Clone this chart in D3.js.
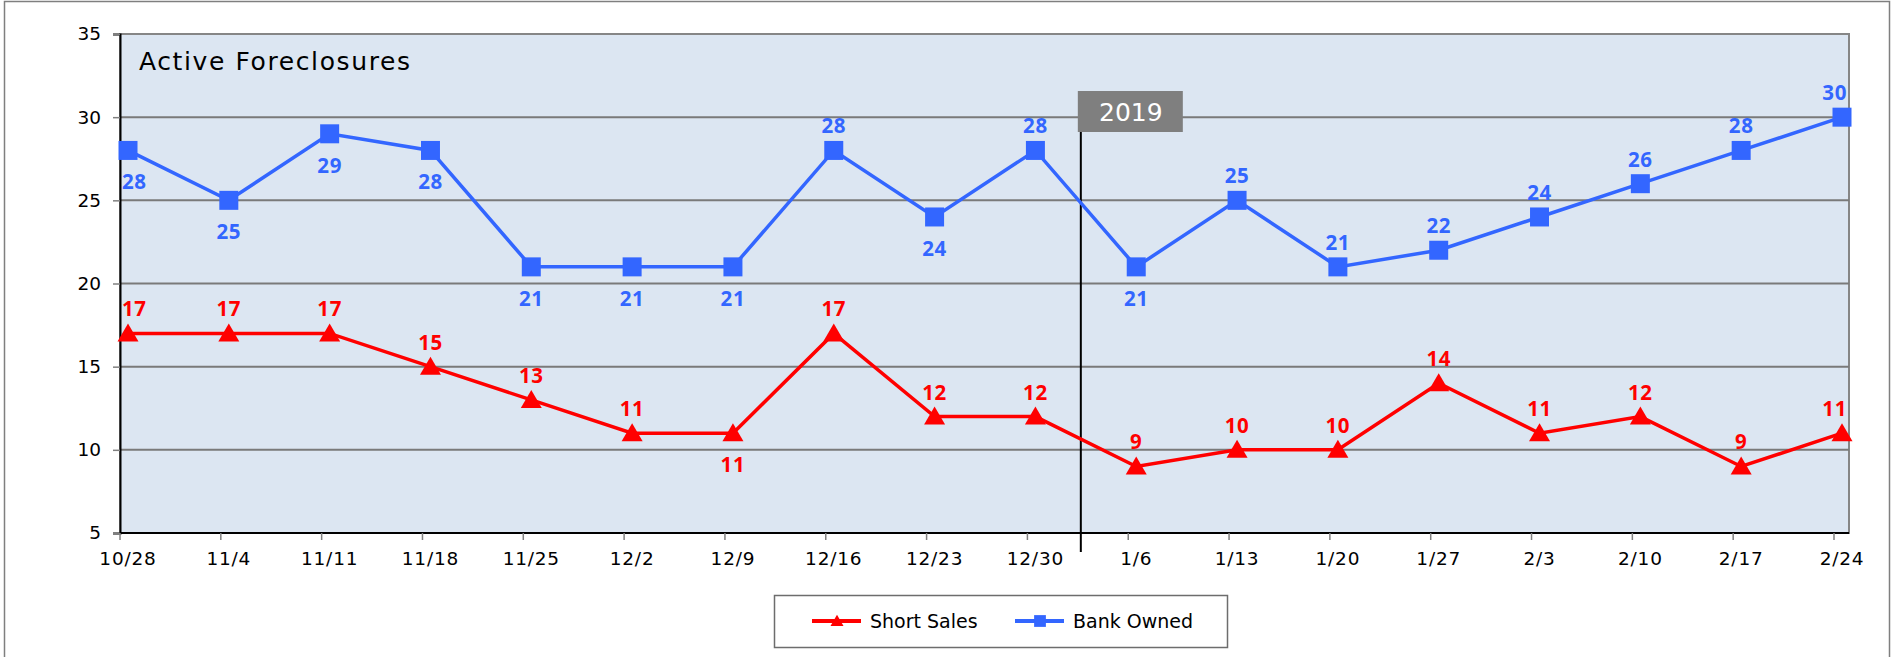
<!DOCTYPE html>
<html>
<head>
<meta charset="utf-8">
<script src="https://cdn.jsdelivr.net/npm/d3@7"></script>
<style>
  body { margin: 0; background: #fff; }
  svg { display: block; font-family: "DejaVu Sans", sans-serif; }
</style>
</head>
<body>
<svg id="chart" width="1895" height="657"></svg>
<script>
// weeks shown on the x axis
var weeks = ["10/28", "11/4", "11/11", "11/18", "11/25", "12/2", "12/9", "12/16", "12/23", "12/30",
             "1/6", "1/13", "1/20", "1/27", "2/3", "2/10", "2/17", "2/24"];
var shortSales = [17, 17, 17, 15, 13, 11, 11, 17, 12, 12, 9, 10, 10, 14, 11, 12, 9, 11];
var bankOwned = [28, 25, 29, 28, 21, 21, 21, 28, 24, 28, 21, 25, 21, 22, 24, 26, 28, 30];
// where each value label sits relative to its marker
var shortLabelPos = ["up", "up", "up", "up", "up", "up", "down", "up", "up", "up",
                     "up", "up", "up", "up", "up", "up", "up", "up"];
var bankLabelPos = ["down", "down", "down", "down", "down", "down", "down", "up", "down", "up",
                    "down", "up", "up", "up", "up", "up", "up", "up"];
var yTicks = [5, 10, 15, 20, 25, 30, 35];

var svg = d3.select("#chart");
var plot = {left: 120, right: 1849, top: 34, bottom: 533};

var x = d3.scalePoint().domain(weeks).range([128, 1842]);
var y = d3.scaleLinear().domain([5, 35]).range([plot.bottom, plot.top]);

// outer frame
svg.append("rect")
    .attr("x", 4.5).attr("y", 1.5)
    .attr("width", 1885).attr("height", 680)
    .style("fill", "none").style("stroke", "#7f7f7f").style("stroke-width", 1.5);

// plot background
svg.append("rect")
    .attr("x", plot.left).attr("y", plot.top)
    .attr("width", plot.right - plot.left).attr("height", plot.bottom - plot.top)
    .style("fill", "#dce6f2").style("stroke", "#868686").style("stroke-width", 2);

// gridlines
svg.append("g").selectAll("line")
    .data(yTicks.slice(1, -1))
    .enter().append("line")
    .attr("x1", plot.left).attr("x2", plot.right)
    .attr("y1", function(d){ return y(d); }).attr("y2", function(d){ return y(d); })
    .style("stroke", "#7a7a7a").style("stroke-width", 2);

// y axis
var yAxis = svg.append("g")
    .attr("transform", "translate(" + plot.left + ",0)")
    .call(d3.axisLeft(y).tickValues(yTicks).tickSize(7).tickPadding(12));
yAxis.select(".domain").style("stroke", "#000").style("stroke-width", 2);
yAxis.selectAll(".tick line").style("stroke", "#808080").style("stroke-width", 1.5);
yAxis.selectAll("text").style("font-size", "18.5px").style("font-family", "DejaVu Sans")
    .style("fill", "#000");

// x axis: ticks sit a little left of the points, as in the original
var xAxis = svg.append("g")
    .attr("transform", "translate(0," + plot.bottom + ")");
xAxis.append("line")
    .attr("x1", plot.left).attr("x2", plot.right)
    .style("stroke", "#000").style("stroke-width", 2);
xAxis.selectAll(".xtick")
    .data(weeks).enter().append("line")
    .attr("x1", function(d){ return x(d) - 8; }).attr("x2", function(d){ return x(d) - 8; })
    .attr("y1", 0).attr("y2", 7)
    .style("stroke", "#808080").style("stroke-width", 1.5);
xAxis.selectAll(".xlabel")
    .data(weeks).enter().append("text")
    .attr("x", function(d){ return x(d); })
    .attr("y", 32)
    .attr("text-anchor", "middle")
    .style("font-size", "18.5px").style("letter-spacing", "0.8px")
    .text(function(d){ return d; });

// title
svg.append("text")
    .attr("x", 139).attr("y", 70)
    .style("font-size", "25px").style("letter-spacing", "1.6px")
    .text("Active Foreclosures");

// 2019 divider
var divX = (x("12/30") + x("1/6")) / 2 - 5;
svg.append("line")
    .attr("x1", divX).attr("x2", divX)
    .attr("y1", 132).attr("y2", 552)
    .style("stroke", "#000").style("stroke-width", 2);
svg.append("rect")
    .attr("x", divX - 3).attr("y", 91)
    .attr("width", 105).attr("height", 41)
    .style("fill", "#7f7f7f");
svg.append("text")
    .attr("x", divX - 3 + 53).attr("y", 121)
    .attr("text-anchor", "middle")
    .style("font-size", "25px").style("fill", "#fff")
    .text("2019");

var line = d3.line()
    .x(function(d, i){ return x(weeks[i]); })
    .y(function(d){ return y(d); });

function drawSeries(values, labelPos, color, shape) {
    var g = svg.append("g");
    g.append("path")
        .datum(values)
        .attr("d", line)
        .style("fill", "none").style("stroke", color).style("stroke-width", 3.5);
    g.selectAll(".marker")
        .data(values).enter().append("path")
        .attr("transform", function(d, i){ return "translate(" + x(weeks[i]) + "," + y(d) + ")"; })
        .attr("d", shape)
        .style("fill", color);
    g.selectAll(".lbl")
        .data(values).enter().append("text")
        .attr("y", function(d, i){ return y(d) + (labelPos[i] == "up" ? -17 : 39); })
        .attr("text-anchor", "middle")
        .style("font-family", "Open Sans")
        .style("font-size", "20.5px").style("font-weight", 700)
        .style("letter-spacing", "0.6px")
        .style("fill", color)
        .text(function(d){ return d; })
        // keep labels inside the plot area
        .attr("x", function(d, i){
            var half = this.getComputedTextLength() / 2 + 2;
            return Math.max(plot.left + half, Math.min(plot.right - half, x(weeks[i])));
        });
}

var triangle = "M0,-10L10.5,8L-10.5,8Z";
var square = "M-9.5,-9.5H9.5V9.5H-9.5Z";

drawSeries(bankOwned, bankLabelPos, "#3366ff", square);
drawSeries(shortSales, shortLabelPos, "#ff0000", triangle);

// legend
var legend = svg.append("g");
legend.append("rect")
    .attr("x", 774.5).attr("y", 595.5)
    .attr("width", 453).attr("height", 52)
    .style("fill", "#fff").style("stroke", "#6d6d6d").style("stroke-width", 1.5);
var legendItems = [
    {name: "Short Sales", color: "#ff0000", shape: triangle, x: 812},
    {name: "Bank Owned", color: "#3366ff", shape: square, x: 1015}
];
legendItems.forEach(function(d) {
    legend.append("line")
        .attr("x1", d.x).attr("x2", d.x + 49)
        .attr("y1", 621).attr("y2", 621)
        .style("stroke", d.color).style("stroke-width", 4);
    legend.append("path")
        .attr("transform", "translate(" + (d.x + 25) + ",621) scale(0.62)")
        .attr("d", d.shape)
        .style("fill", d.color);
    legend.append("text")
        .attr("x", d.x + 58).attr("y", 628)
        .style("font-size", "19px")
        .text(d.name);
});
</script>
</body>
</html>
